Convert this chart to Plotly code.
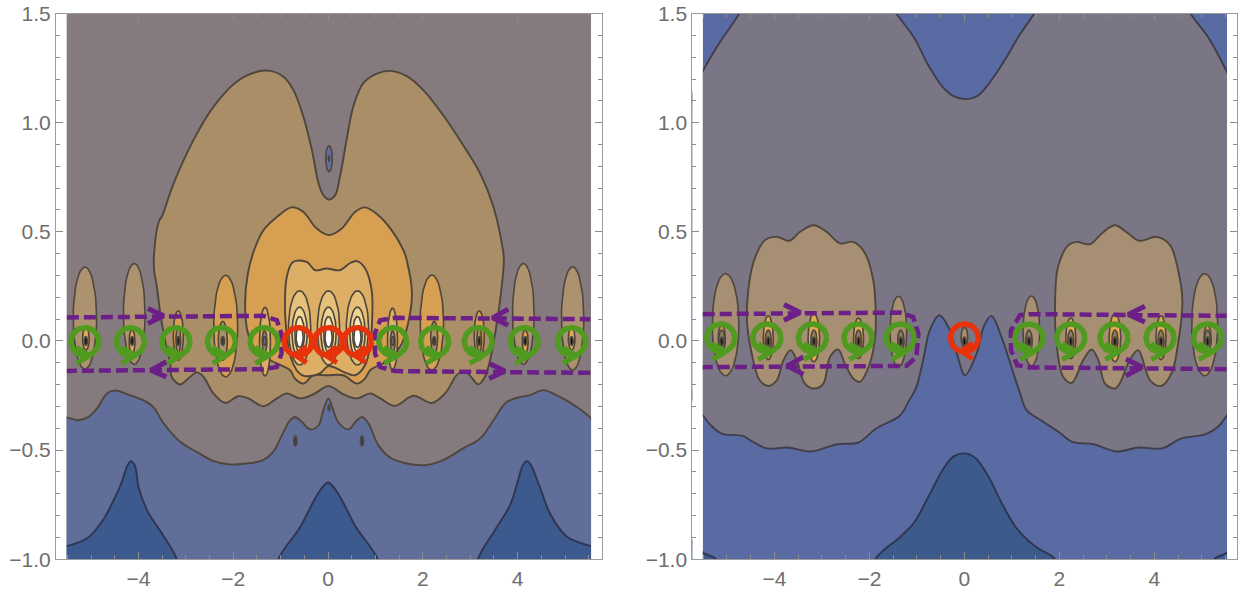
# contour panels: outlines, drawn as filled regions
import numpy as np
import plotly.graph_objects as go

# ---- left panel outlines
L_BLUE_X = [-5.7,-5.52,-5.27,-5.06,-4.87,-4.66,-4.49,-4.18,-3.90,-3.69,-3.47,-3.12,-2.77,-2.43,-2.07,-1.72,-1.37,-1.16,-0.95,-0.80,-0.70,-0.55,-0.38,-0.20,-0.10,0.01,0.11,0.21,0.43,0.61,0.72,0.85,1.06,1.31,1.66,2.08,2.43,2.85,3.21,3.49,3.77,4.05,4.26,4.54,4.82,5.25,5.55,5.7,5.7,-5.7]
L_BLUE_Y = [-0.34,-0.350,-0.363,-0.349,-0.308,-0.239,-0.227,-0.248,-0.271,-0.302,-0.377,-0.462,-0.508,-0.549,-0.566,-0.561,-0.546,-0.508,-0.422,-0.363,-0.348,-0.371,-0.405,-0.386,-0.317,-0.263,-0.317,-0.371,-0.405,-0.363,-0.348,-0.377,-0.477,-0.534,-0.561,-0.568,-0.546,-0.492,-0.447,-0.363,-0.280,-0.257,-0.248,-0.225,-0.248,-0.302,-0.354,-0.40,-1.3,-1.3]
L_TAN_X = [-3.56,-3.67,-3.67,-3.61,-3.54,-3.44,-3.33,-3.30,-3.12,-2.95,-2.77,-2.63,-2.42,-2.17,-1.89,-1.68,-1.36,-1.08,-0.87,-0.59,-0.31,0.01,0.32,0.61,0.89,1.10,1.41,1.80,2.19,2.47,2.75,2.93,3.17,3.31,3.45,3.56,3.63,3.71,3.69,3.49,3.21,2.85,2.43,2.01,1.66,1.31,1.03,0.74,0.53,0.39,0.25,0.15,0.02,-0.10,-0.20,-0.34,-0.52,-0.73,-0.94,-1.22,-1.50,-1.93,-2.42,-2.84,-3.26,-3.51]
L_TAN_Y = [0.553,0.402,0.324,0.246,0.127,0.004,-0.102,-0.164,-0.199,-0.172,-0.144,-0.164,-0.240,-0.284,-0.253,-0.263,-0.299,-0.263,-0.240,-0.263,-0.244,-0.207,-0.244,-0.263,-0.240,-0.263,-0.297,-0.251,-0.284,-0.240,-0.149,-0.146,-0.199,-0.164,-0.056,0.082,0.187,0.370,0.416,0.614,0.767,0.897,1.034,1.149,1.213,1.237,1.225,1.180,1.072,0.920,0.752,0.668,0.648,0.668,0.721,0.874,1.027,1.149,1.210,1.237,1.233,1.187,1.072,0.920,0.721,0.568]
L_ORANGE_X = [-1.56,-1.36,-1.08,-0.77,-0.52,-0.24,0.02,0.29,0.57,0.78,1.06,1.34,1.59,1.66,1.77,1.69,1.52,1.20,0.89,0.78,0.61,0.32,-0.03,-0.31,-0.52,-0.70,-0.80,-1.22,-1.52,-1.69,-1.75,-1.69]
L_ORANGE_Y = [0.416,0.508,0.568,0.612,0.591,0.515,0.485,0.515,0.591,0.612,0.576,0.508,0.416,0.370,0.219,0.082,-0.027,-0.097,-0.134,-0.172,-0.195,-0.157,-0.157,-0.157,-0.195,-0.172,-0.134,-0.088,-0.042,0.036,0.173,0.311]
L_GOLD_X = [-0.87,-0.74,-0.45,-0.27,-0.03,0.25,0.46,0.61,0.78,0.92,0.93,0.89,0.78,0.57,0.34,0.18,0.00,-0.17,-0.49,-0.63,-0.80,-0.87,-0.91]
L_GOLD_Y = [0.294,0.362,0.362,0.324,0.332,0.324,0.356,0.366,0.333,0.233,0.095,-0.019,-0.111,-0.157,-0.143,-0.125,-0.115,-0.148,-0.161,-0.143,-0.065,0.027,0.164]
L_HILL1_X = [-5.7,-5.52,-5.09,-4.75,-4.49,-4.35,-4.24,-4.16,-4.07,-4.00,-3.82,-3.46,-3.19,-3.0,-5.7]
L_HILL1_Y = [-0.95,-0.94,-0.905,-0.821,-0.714,-0.645,-0.574,-0.551,-0.574,-0.668,-0.775,-0.897,-1.0,-1.2,-1.2]
L_HILL2_X = [-1.25,-1.05,-0.59,-0.27,-0.10,0.0,0.10,0.27,0.59,1.05,1.25]
L_HILL2_Y = [-1.2,-1.0,-0.853,-0.72,-0.665,-0.648,-0.665,-0.72,-0.853,-1.0,-1.2]
L_HILL3_X = [3.0,3.16,3.52,3.84,4.01,4.11,4.20,4.28,4.47,4.68,5.04,5.55,5.7,5.7]
L_HILL3_Y = [-1.2,-1.0,-0.867,-0.752,-0.638,-0.569,-0.551,-0.569,-0.67,-0.789,-0.897,-0.94,-0.95,-1.2]

# ---- right panel outlines
R_GRAY_X = [-5.7,-5.51,-5.34,-5.11,-4.67,-4.45,-4.16,-3.72,-3.23,-2.68,-2.23,-1.86,-1.35,-1.16,-1.01,-0.87,-0.73,-0.53,-0.34,-0.16,0.01,0.26,0.41,0.57,0.78,0.99,1.17,1.31,1.61,1.98,2.27,2.72,3.20,3.67,4.16,4.56,5.08,5.34,5.53,5.7,5.7,5.52,5.15,4.77,4.5,1.75,1.46,1.16,0.87,0.57,0.28,0.02,-0.24,-0.46,-0.76,-1.05,-1.42,-1.7,-4.5,-4.75,-5.19,-5.51,-5.7]
R_GRAY_Y = [-0.28,-0.340,-0.386,-0.424,-0.435,-0.462,-0.492,-0.488,-0.506,-0.473,-0.465,-0.401,-0.340,-0.271,-0.210,-0.088,0.049,0.118,0.065,-0.057,-0.157,-0.056,0.068,0.115,0.019,-0.119,-0.239,-0.317,-0.363,-0.416,-0.462,-0.473,-0.506,-0.488,-0.492,-0.447,-0.427,-0.393,-0.340,-0.28,1.15,1.236,1.386,1.497,1.6,1.6,1.497,1.401,1.294,1.195,1.123,1.108,1.123,1.164,1.263,1.386,1.497,1.6,1.6,1.497,1.355,1.236,1.15]
R_TAN1_X = [-4.57,-4.45,-4.20,-3.95,-3.69,-3.46,-3.18,-2.90,-2.62,-2.34,-2.09,-1.92,-1.87,-1.88,-1.99,-2.20,-2.34,-2.52,-2.66,-2.83,-2.97,-3.16,-3.36,-3.53,-3.66,-3.81,-3.95,-4.13,-4.31,-4.48,-4.57]
R_TAN1_Y = [0.187,0.355,0.462,0.477,0.459,0.500,0.530,0.500,0.447,0.454,0.401,0.279,0.156,0.019,-0.102,-0.187,-0.172,-0.103,-0.039,-0.073,-0.195,-0.218,-0.195,-0.088,-0.042,-0.088,-0.180,-0.206,-0.180,-0.057,0.065]
R_TAN2_X = [1.91,1.97,2.19,2.36,2.64,2.89,3.17,3.45,3.69,4.05,4.33,4.50,4.59,4.50,4.36,4.14,3.91,3.66,3.48,3.27,3.17,2.96,2.82,2.68,2.50,2.26,2.08,1.94]
R_TAN2_Y = [0.187,0.339,0.439,0.454,0.443,0.492,0.530,0.492,0.459,0.477,0.439,0.324,0.187,-0.011,-0.149,-0.206,-0.180,-0.042,-0.088,-0.195,-0.218,-0.195,-0.088,-0.039,-0.088,-0.192,-0.164,-0.011]
R_HILL_X = [-2.2,-1.88,-1.35,-1.05,-0.76,-0.46,-0.24,0.02,0.24,0.49,0.79,1.08,1.50,1.91,2.2]
R_HILL_Y = [-1.2,-1.0,-0.897,-0.829,-0.714,-0.592,-0.531,-0.515,-0.538,-0.615,-0.744,-0.852,-0.943,-1.0,-1.2]
R_CORNER1_X = [-5.7,-5.51,-5.23,-5.0,-5.7]
R_CORNER1_Y = [-0.91,-0.969,-1.0,-1.2,-1.2]
R_CORNER2_X = [5.0,5.26,5.53,5.7,5.7]
R_CORNER2_Y = [-1.2,-1.0,-0.969,-0.91,-1.2]

# ---- ellipses: centre x, centre y, half width, half height, colour
L_OUT_CX = [-5.13,-4.09,-3.16,-2.16,-1.33,1.36,2.19,3.19,4.12,5.16]
L_OUT_CY = [0.105,0.124,0.025,0.068,-0.003,0.008,0.084,0.025,0.124,0.103]
L_OUT_RX = [0.247,0.228,0.105,0.253,0.116,0.105,0.247,0.105,0.228,0.236]
L_OUT_RY = [0.234,0.231,0.113,0.233,0.157,0.142,0.218,0.113,0.231,0.237]
L_OUT_C = ["#ad9270","#ad9270","#d79f52","#d79f52","#dcae66","#dcae66","#d79f52","#d79f52","#ad9270","#ad9270"]
L_MID_CX = [-5.11,-4.135,-3.16,-2.22,-1.34,1.365,2.24,3.19,4.16,5.14]
L_MID_CY = [0.01,-0.003,0.005,0.001,-0.003,-0.003,0.017,0.005,-0.003,0.01]
L_MID_RX = [0.07,0.063,0.05,0.095,0.05,0.05,0.074,0.05,0.063,0.07]
L_MID_RY = [0.052,0.053,0.06,0.089,0.05,0.05,0.073,0.06,0.053,0.052]
L_MID_C = ["#e2aa52","#e2aa52","#a89068","#a89068","#8d8578","#8d8578","#a89068","#a89068","#e2aa52","#e2aa52"]
L_CORE_C = ["#111111","#111111","#222222","#3a3a3a","#6a6a6a","#6a6a6a","#3a3a3a","#222222","#111111","#111111"]

LOBE_CX = [-0.6,0.01,0.62]
LOBE_CY = [0.06,0.038,0.031,0.017]
LOBE_RX = [0.235,0.16,0.10,0.075]
LOBE_RY = [0.17,0.117,0.081,0.046]
LOBE_C = ["#e6c078","#efd493","#f6e6b0","#ffffff"]

L_SPOT_CX = [0.02,0.02,-0.69,0.717,0.02]
L_SPOT_CY = [0.835,0.835,-0.458,-0.458,-0.306]
L_SPOT_RX = [0.07,0.015,0.035,0.035,0.02]
L_SPOT_RY = [0.059,0.012,0.023,0.023,0.013]
L_SPOT_C = ["#5f6fa6","#2a3050","#343c5c","#343c5c","#343c5c"]

R_OUT_CX = [-5.03,-1.39,1.41,5.06,0.0]
R_OUT_CY = [0.075,0.043,0.046,0.075,0.017]
R_OUT_RX = [0.28,0.175,0.175,0.274,0.07]
R_OUT_RY = [0.234,0.162,0.16,0.234,0.046]
R_MID_CX = [-5.11,-4.13,-3.17,-2.23,-1.34,1.36,2.24,3.17,4.14,5.12]
R_MID_CY = [0.011,0.015,0.015,0.012,0.0,0.0,0.012,0.015,0.015,0.011]
R_MID_RX = [0.075,0.105,0.122,0.105,0.065,0.065,0.105,0.122,0.105,0.075]
R_MID_RY = [0.061,0.10,0.11,0.093,0.044,0.044,0.093,0.11,0.10,0.061]
R_MID_C = ["#dea64e","#e2aa52","#e2aa52","#e2aa52","#c9a060","#c9a060","#e2aa52","#e2aa52","#e2aa52","#dea64e"]

# ---- circles with arrowheads
L_GREEN_X = [-5.13,-4.17,-3.21,-2.25,-1.35,1.365,2.25,3.17,4.14,5.14]
L_RED_X = [-0.63,0.01,0.62]
R_GREEN_X = [-5.13,-4.16,-3.20,-2.24,-1.35,1.36,2.24,3.15,4.12,5.12]
R_RED_X = [0.0]
L_RING_Y = -0.003
R_RING_Y = 0.014

# ---- dashed loops and their arrowheads
L_LOOP1_X = [-5.51,-1.365,-1.08,-0.99,-0.98,-1.08,-1.365,-5.51]
L_LOOP1_Y = [0.108,0.115,0.095,0.036,-0.056,-0.119,-0.129,-0.137]
L_LOOP2_X = [5.53,1.41,1.10,0.99,0.99,1.10,1.41,5.53]
L_LOOP2_Y = [-0.146,-0.138,-0.119,-0.056,0.036,0.095,0.106,0.10]
L_HEADS_X = [[-3.80,-3.47,-3.80],[-3.41,-3.74,-3.41],[3.80,3.47,3.80],[3.40,3.73,3.40]]
L_HEADS_Y = [[0.149,0.115,0.080],[-0.095,-0.134,-0.165],[0.145,0.106,0.072],[-0.103,-0.138,-0.172]]
R_LOOP1_X = [-5.51,-1.36,-1.08,-0.97,-1.01,-1.22,-5.51]
R_LOOP1_Y = [0.123,0.130,0.110,0.034,-0.073,-0.114,-0.120]
R_LOOP2_X = [5.52,1.38,1.11,0.98,0.98,1.17,1.38,5.52]
R_LOOP2_Y = [-0.129,-0.121,-0.111,-0.042,0.049,0.118,0.123,0.115]
R_HEADS_X = [[-3.80,-3.46,-3.80],[-3.39,-3.73,-3.39],[3.80,3.45,3.80],[3.40,3.74,3.40]]
R_HEADS_Y = [[0.167,0.130,0.095],[-0.073,-0.114,-0.153],[0.159,0.121,0.087],[-0.083,-0.119,-0.160]]

X_TICKS = [-4,-2,0,2,4]
Y_TICKS = [-1.0,-0.5,0.0,0.5,1.0,1.5]

LINE = "#4f463c"
BLUE_LINE = "#2f3550"
PURPLE = "#6b1f87"
GREEN = "#4f9a1f"
RED = "#e6330c"
W, H = 1243, 593
FILL_EDGE = [(-5.52,5.55),(-5.51,5.53)]
FRAME = [(-5.74,5.78),(-5.73,5.74)]

fig = go.Figure()


def axis_names(col):
    return ("x","y") if col == 1 else ("x2","y2")


def region(col, xs, ys, color, line=LINE):
    xa, ya = axis_names(col)
    fig.add_trace(go.Scatter(x=xs+xs[:1], y=ys+ys[:1], xaxis=xa, yaxis=ya, mode="lines", fill="toself", fillcolor=color,
                             line=dict(color=line, width=1.9, shape="spline", smoothing=1, simplify=False), hoverinfo="skip"))


def ellipse(col, cx, cy, rx, ry, color, line=LINE, width=1.6):
    xa, ya = axis_names(col)
    t = np.linspace(0, 2*np.pi, 49)
    fig.add_trace(go.Scatter(x=cx+rx*np.cos(t), y=cy+ry*np.sin(t), xaxis=xa, yaxis=ya, mode="lines", fill="toself", fillcolor=color,
                             line=dict(color=line, width=width), hoverinfo="skip"))


def ellipses(col, cxs, cys, rxs, rys, colors):
    for cx, cy, rx, ry, c in zip(cxs, cys, rxs, rys, colors):
        ellipse(col, cx, cy, rx, ry, c)


def stroke(col, xs, ys, color, width=5.5, dash=None):
    xa, ya = axis_names(col)
    fig.add_trace(go.Scatter(x=xs, y=ys, xaxis=xa, yaxis=ya, mode="lines",
                             line=dict(color=color, width=width, dash=dash), hoverinfo="skip"))


def ring(col, cx, cy, color, flip):
    t = np.linspace(0, 2*np.pi, 61)
    stroke(col, cx+0.295*np.cos(t), cy+0.064*np.sin(t), color)
    # arrowhead at the foot of the ring
    if flip:
        stroke(col, [cx+0.177,cx-0.07,cx+0.177], [cy-0.023,cy-0.061,cy-0.096], color, 5)
    else:
        stroke(col, [cx-0.184,cx+0.11,cx-0.184], [cy-0.026,cy-0.064,cy-0.099], color, 5)


def white_strips(col):
    a, b = FILL_EDGE[col-1]
    f0, f1 = FRAME[col-1]
    region_x = [[f0,a,a,f0],[b,f1,f1,b]]
    xa, ya = axis_names(col)
    for xs in region_x:
        fig.add_trace(go.Scatter(x=xs, y=[-1,-1,1.5,1.5], xaxis=xa, yaxis=ya, mode="lines", fill="toself",
                                 fillcolor="white", line=dict(width=0), hoverinfo="skip"))


def base(col, color):
    a, b = FILL_EDGE[col-1]
    xa, ya = axis_names(col)
    fig.add_trace(go.Scatter(x=[a,b,b,a], y=[-1,-1,1.5,1.5], xaxis=xa, yaxis=ya, mode="lines", fill="toself",
                             fillcolor=color, line=dict(width=0), hoverinfo="skip"))


# left panel
base(1, "#857a7e")
region(1, L_BLUE_X, L_BLUE_Y, "#626e9a")
region(1, L_HILL1_X, L_HILL1_Y, "#3c5a8e", BLUE_LINE)
region(1, L_HILL2_X, L_HILL2_Y, "#3c5a8e", BLUE_LINE)
region(1, L_HILL3_X, L_HILL3_Y, "#3c5a8e", BLUE_LINE)
region(1, L_TAN_X, L_TAN_Y, "#a98e68")
region(1, L_ORANGE_X, L_ORANGE_Y, "#d79f52")
region(1, L_GOLD_X, L_GOLD_Y, "#dcae66")
ellipses(1, L_OUT_CX, L_OUT_CY, L_OUT_RX, L_OUT_RY, L_OUT_C)
ellipses(1, L_MID_CX, L_MID_CY, L_MID_RX, L_MID_RY, L_MID_C)
ellipses(1, L_MID_CX, [0.0]*10, [0.035]*10, [0.02]*10, L_CORE_C)
for cx in LOBE_CX:
    for cy, rx, ry, c in zip(LOBE_CY, LOBE_RX, LOBE_RY, LOBE_C):
        ellipse(1, cx, cy, rx, ry, c)
ellipses(1, L_SPOT_CX, L_SPOT_CY, L_SPOT_RX, L_SPOT_RY, L_SPOT_C)
white_strips(1)
stroke(1, L_LOOP1_X, L_LOOP1_Y, PURPLE, 4.5, "12px,5px")
stroke(1, L_LOOP2_X, L_LOOP2_Y, PURPLE, 4.5, "12px,5px")
for xs, ys in zip(L_HEADS_X, L_HEADS_Y):
    stroke(1, xs, ys, PURPLE, 5)
for cx in L_GREEN_X:
    ring(1, cx, L_RING_Y, GREEN, False)
for cx in L_RED_X:
    ring(1, cx, L_RING_Y, RED, True)

# right panel
base(2, "#5a6aa2")
region(2, R_HILL_X, R_HILL_Y, "#3c5a8c", BLUE_LINE)
region(2, R_CORNER1_X, R_CORNER1_Y, "#3c5a8c", BLUE_LINE)
region(2, R_CORNER2_X, R_CORNER2_Y, "#3c5a8c", BLUE_LINE)
region(2, R_GRAY_X, R_GRAY_Y, "#7b7685", "#3f3e4a")
region(2, R_TAN1_X, R_TAN1_Y, "#a68f72")
region(2, R_TAN2_X, R_TAN2_Y, "#a68f72")
ellipses(2, R_OUT_CX, R_OUT_CY, R_OUT_RX, R_OUT_RY, ["#a68f72"]*5)
ellipses(2, R_MID_CX, R_MID_CY, R_MID_RX, R_MID_RY, R_MID_C)
ellipses(2, R_MID_CX, [0.0]*10, [0.065]*10, [0.05]*10, ["#8d7d62"]*10)
ellipses(2, R_MID_CX+[0.0], [-0.002]*11, [0.035]*11, [0.02]*11, ["#111111"]*11)
white_strips(2)
stroke(2, R_LOOP1_X, R_LOOP1_Y, PURPLE, 4.5, "12px,5px")
stroke(2, R_LOOP2_X, R_LOOP2_Y, PURPLE, 4.5, "12px,5px")
for xs, ys in zip(R_HEADS_X, R_HEADS_Y):
    stroke(2, xs, ys, PURPLE, 5)
for cx in R_GREEN_X:
    ring(2, cx, R_RING_Y, GREEN, False)
for cx in R_RED_X:
    ring(2, cx, R_RING_Y, RED, True)

tick_font = dict(family="Liberation Sans", size=21, color="#6e6e6e")
frame = dict(showgrid=False, zeroline=False, showline=True, linecolor="#9c9c9c", linewidth=1, mirror="ticks", automargin=False,
             ticks="inside", tickcolor="#8c8c8c", tickwidth=1, ticklen=7, tickfont=tick_font)
x_axis = dict(frame, tickmode="array", tickvals=X_TICKS, ticktext=["\u2212" + str(-v) if v < 0 else str(v) for v in X_TICKS],
              minor=dict(dtick=0.5, ticks="inside", ticklen=4, tickcolor="#8c8c8c", showgrid=False))
y_axis = dict(frame, tickmode="array", tickvals=Y_TICKS, ticktext=[("\u2212" if v < 0 else "") + f"{abs(v):.1f}" for v in Y_TICKS],
              range=[-1, 1.5], minor=dict(dtick=0.1, ticks="inside", ticklen=4, tickcolor="#8c8c8c", showgrid=False))

fig.update_layout(
    width=W, height=H, autosize=False, showlegend=False,
    paper_bgcolor="white", plot_bgcolor="white",
    margin=dict(l=0, r=0, t=0, b=0),
    xaxis=dict(x_axis, domain=[56/W, 602/W], range=list(FRAME[0]), anchor="y"),
    yaxis=dict(y_axis, domain=[(H-559.3)/H, (H-13.5)/H], anchor="x"),
    xaxis2=dict(x_axis, domain=[692.3/W, 1237/W], range=list(FRAME[1]), anchor="y2"),
    yaxis2=dict(y_axis, domain=[(H-559.3)/H, (H-13.5)/H], anchor="x2"),
)

fig.write_html("out.html", config={"displayModeBar": False}, post_script="document.body.style.margin='0';")
